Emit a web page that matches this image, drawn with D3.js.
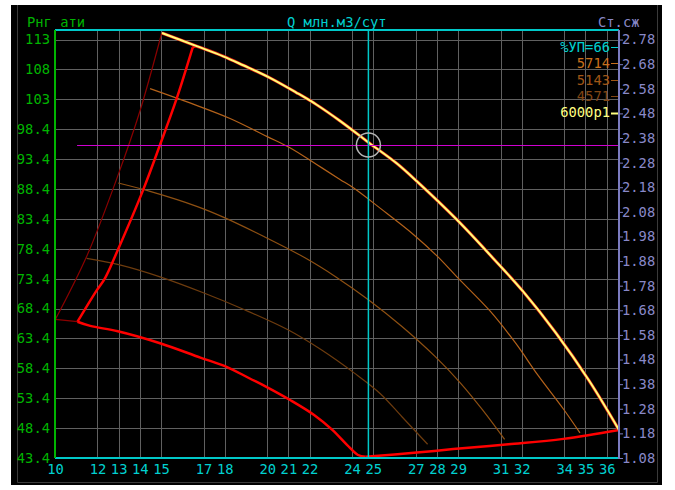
<!DOCTYPE html>
<html>
<head>
<meta charset="utf-8">
<script src="https://cdn.jsdelivr.net/npm/d3@7"></script>
<style>
  html, body { margin: 0; padding: 0; background: #fff; }
  svg text { font-family: "DejaVu Sans Mono", "Liberation Mono", monospace; font-size: 13.8px; }
</style>
</head>
<body>
<div id="graf"></div>
<script>
const graf = d3.select("#graf")

const anchoTotal = 675
const altoTotal = 490
const margins = { left: 55, top: 30, right: 56, bottom: 32 }

// Data
const xTicks = [10, 12, 13, 14, 15, 17, 18, 20, 21, 22, 24, 25, 27, 28, 29, 31, 32, 34, 35, 36]
const leftTicks = [43.4, 48.4, 53.4, 58.4, 63.4, 68.4, 73.4, 78.4, 83.4, 88.4, 93.4, 98.4, 103.4, 108.4, 113.4]
const rightTicks = [1.08, 1.18, 1.28, 1.38, 1.48, 1.58, 1.68, 1.78, 1.88, 1.98, 2.08, 2.18, 2.28, 2.38, 2.48, 2.58, 2.68, 2.78]

const legendLabels = ["%УП=66", "5714", "5143", "4571", "6000p1"]

// 6000 об/мин (p1)
const curve6000 = [
  [15.04, 114.5], [16.68, 112.3], [17.93, 110.6], [18.87, 109.1], [20.13, 107.0],
  [21.39, 104.5], [22.33, 102.5], [23.43, 99.8], [24.81, 96.1], [26.10, 92.7],
  [27.05, 89.7], [28.93, 83.3], [30.65, 76.8], [32.05, 71.3], [33.61, 64.3],
  [35.16, 56.4], [36.58, 48.1]
]
const curve5714 = [
  [14.48, 105.2], [16.36, 102.8], [18.25, 100.2], [19.98, 97.2], [21.07, 95.3],
  [22.33, 92.5], [23.43, 90.0], [24.06, 88.6], [25.32, 85.2], [26.89, 80.8],
  [28.06, 77.0], [28.94, 73.7], [30.50, 68.0], [31.71, 62.6], [32.75, 57.3],
  [33.96, 51.6], [34.74, 47.6]
]
const curve5143 = [
  [12.98, 89.4], [14.48, 88.0], [16.68, 85.5], [17.93, 83.7], [19.82, 80.5],
  [21.78, 76.9], [23.24, 73.7], [24.80, 69.8], [26.35, 65.4], [27.91, 60.4],
  [29.12, 55.9], [30.16, 51.4], [31.19, 46.5]
]
const curve4571 = [
  [11.49, 76.8], [13.05, 75.7], [14.95, 73.7], [17.02, 71.0], [18.93, 68.2],
  [21.00, 64.8], [22.55, 61.5], [24.11, 57.6], [25.32, 54.2], [26.35, 50.3],
  [27.56, 45.7]
]
// рабочая зона (границы)
const zoneLeft = [
  [11.06, 66.2], [11.92, 71.2], [12.36, 73.5], [12.96, 78.2], [14.16, 88.3],
  [14.95, 95.8], [15.74, 103.6], [16.49, 112.1]
]
const zoneTop = [[16.49, 112.1], [16.68, 112.4]]
const zoneLower = [
  [11.06, 66.2], [11.66, 65.5], [12.96, 64.6], [14.95, 62.6], [16.85, 60.2],
  [18.06, 58.7], [19.18, 56.7], [19.96, 55.3], [21.08, 53.1], [22.21, 50.6],
  [23.07, 48.1], [23.76, 45.6], [24.28, 43.9], [24.63, 43.6]
]
const zoneBottom = [
  [24.63, 43.6], [27.05, 44.3], [28.77, 44.9], [31.37, 45.7], [33.96, 46.6], [36.58, 48.1]
]
// граница помпажа
const surgeLine = [[10.02, 66.6], [11.49, 77.1], [12.98, 90.8], [14.0, 101.4], [15.03, 114.5]]
const surgeLink = [[10.02, 66.6], [11.06, 66.2]]

// рабочая точка
const workQ = 24.77
const workP = 95.76
const cursorStartQ = 11.04

const svg = graf
  .append("svg")
  .attr("width", anchoTotal)
  .attr("height", altoTotal)

// panel
svg.append("rect")
  .attr("x", 11).attr("y", 5)
  .attr("width", 651).attr("height", 480)
  .attr("fill", "#000")
svg.append("path")
  .attr("d", "M17.5,5 V482.5 H657.5 V5")
  .attr("fill", "none")
  .attr("stroke", "#3a3a3a")

// Escaladores
const x = d3.scaleLinear().domain([10, 36.58]).range([margins.left, anchoTotal - margins.right])
const y = d3.scaleLinear().domain([43.4, 115]).range([altoTotal - margins.bottom, margins.top])
const yR = d3.scaleLinear().domain([1.08, 2.78]).range([y(43.4), y(113.4)])

const x0 = x.range()[0], x1 = x.range()[1]
const yb = y.range()[0], yt = y.range()[1]

// grid
const grid = svg.append("g").attr("stroke", "#606060").attr("stroke-width", 1)
grid.selectAll("line.v")
  .data(xTicks.filter(d => d > 10))
  .join("line")
  .attr("x1", d => Math.round(x(d)) + 0.5).attr("x2", d => Math.round(x(d)) + 0.5)
  .attr("y1", yt).attr("y2", yb)
grid.selectAll("line.h")
  .data(leftTicks.filter(d => d > 43.4))
  .join("line")
  .attr("x1", x0).attr("x2", x1)
  .attr("y1", d => Math.round(y(d)) + 0.5).attr("y2", d => Math.round(y(d)) + 0.5)

const smooth = d3.line().x(d => x(d[0])).y(d => y(d[1])).curve(d3.curveCatmullRom.alpha(0.5))
const straight = d3.line().x(d => x(d[0])).y(d => y(d[1]))

const drawCurve = (data, color, width, gen = smooth) =>
  svg.append("path")
    .datum(data)
    .attr("d", gen)
    .attr("fill", "none")
    .attr("stroke", color)
    .attr("stroke-width", width)
    .attr("stroke-linejoin", "round")

drawCurve(surgeLine, "#8b0000", 1.2)
drawCurve(surgeLink, "#8b0000", 1.2, straight)
drawCurve(curve4571, "#6e3c0e", 1.2)
drawCurve(curve5143, "#8e5012", 1.2)
drawCurve(curve5714, "#b4621a", 1.2)
drawCurve(zoneLeft, "#ff0000", 2.5)
drawCurve(zoneTop, "#ff0000", 2.5, straight)
drawCurve(zoneLower, "#ff0000", 2.5)
drawCurve(zoneBottom, "#ff0000", 2.5)
drawCurve(curve6000, "#e02010", 3.2)
drawCurve(curve6000, "#ffff78", 2)

// cursor
svg.append("line")
  .attr("x1", x(cursorStartQ)).attr("x2", x1)
  .attr("y1", Math.round(y(workP)) + 0.5).attr("y2", Math.round(y(workP)) + 0.5)
  .attr("stroke", "#d000d0").attr("stroke-width", 1.2)
svg.append("line")
  .attr("x1", x(workQ)).attr("x2", x(workQ))
  .attr("y1", yt).attr("y2", yb)
  .attr("stroke", "#00c8c8").attr("stroke-width", 1.5)
svg.append("circle")
  .attr("cx", x(workQ)).attr("cy", y(workP))
  .attr("r", 12)
  .attr("fill", "none")
  .attr("stroke", "#b4b4b4")
  .attr("stroke-width", 1.5)

// axes lines
svg.append("line").attr("x1", x0).attr("x2", x1).attr("y1", yt).attr("y2", yt)
  .attr("stroke", "#00c8c8").attr("stroke-width", 2)
svg.append("line").attr("x1", x0).attr("x2", x1).attr("y1", yb).attr("y2", yb)
  .attr("stroke", "#00c8c8").attr("stroke-width", 2)
svg.append("line").attr("x1", x0).attr("x2", x0).attr("y1", yt).attr("y2", yb)
  .attr("stroke", "#00b400").attr("stroke-width", 2)
svg.append("line").attr("x1", x1).attr("x2", x1).attr("y1", yt).attr("y2", yb + 1)
  .attr("stroke", "#7c7cc0").attr("stroke-width", 2)

// axes labels
const fmtLeft = d => (d >= 100 ? Math.floor(d) : d.toFixed(1))

const axL = svg.append("g")
  .attr("transform", `translate(${x0}, 0)`)
  .call(d3.axisLeft(y).tickValues(leftTicks).tickFormat(fmtLeft).tickSize(0).tickPadding(5))
axL.select(".domain").remove()
axL.selectAll("text").attr("fill", "#00b400")

const axB = svg.append("g")
  .attr("transform", `translate(0, ${yb})`)
  .call(d3.axisBottom(x).tickValues(xTicks).tickFormat(d3.format("d")).tickSize(0).tickPadding(6))
axB.select(".domain").remove()
axB.selectAll("text").attr("fill", "#00d0d0")

const axR = svg.append("g")
  .attr("transform", `translate(${x1}, 0)`)
  .call(d3.axisRight(yR).tickValues(rightTicks).tickFormat(d3.format(".2f")).tickSize(4).tickPadding(-1))
axR.select(".domain").remove()
axR.selectAll("line").attr("stroke", "#7c7cc0")
axR.selectAll("text").attr("fill", "#8888c8")

svg.selectAll("g").attr("font-family", null).attr("font-size", null)

// titles
svg.append("text").attr("x", 27).attr("y", 27).attr("fill", "#00b400").text("Рнг ати")
svg.append("text").attr("x", 287).attr("y", 27).attr("fill", "#00d0d0").text("Q млн.м3/сут")
svg.append("text").attr("x", 598).attr("y", 27).attr("fill", "#8888c8").text("Ст.сж")

// legend
const legendColors = ["#00d0d0", "#c8701c", "#a05616", "#824614", "#ffff80"]
const leg = svg.append("g")
leg.selectAll("text")
  .data(legendLabels)
  .join("text")
  .attr("x", 610)
  .attr("y", (d, i) => 47 + i * 16.4)
  .attr("dy", "0.35em")
  .attr("text-anchor", "end")
  .attr("fill", (d, i) => legendColors[i])
  .text(d => d)
leg.selectAll("line")
  .data(legendLabels)
  .join("line")
  .attr("x1", 611).attr("x2", 618)
  .attr("y1", (d, i) => Math.round(47 + i * 16.4) + 0.5)
  .attr("y2", (d, i) => Math.round(47 + i * 16.4) + 0.5)
  .attr("stroke", (d, i) => legendColors[i])
  .attr("stroke-width", (d, i) => (i === 4 ? 2 : 1))
</script>
</body>
</html>
